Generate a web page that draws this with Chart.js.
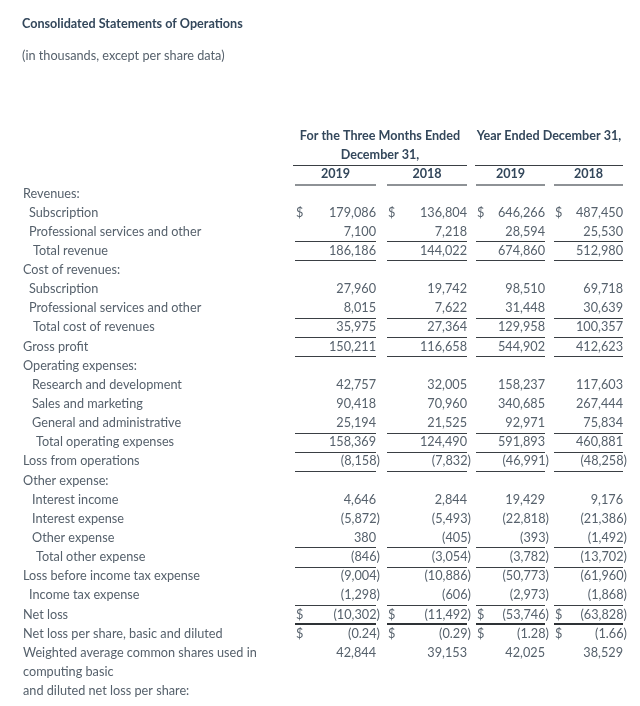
<!DOCTYPE html>
<html>
<head>
<meta charset="utf-8">
<script src="https://cdn.jsdelivr.net/npm/chart.js@4.4.0/dist/chart.umd.min.js"></script>
<style>
  html, body { margin: 0; padding: 0; background: #fff; }
  #wrap { width: 640px; height: 706px; position: relative; }
</style>
</head>
<body>
<div id="wrap"><canvas id="stmt"></canvas></div>
<script>
// rows of the statement (thousands, except per share)
const rowLabels = [
  "Revenues:", "Subscription", "Professional services and other", "Total revenue",
  "Cost of revenues:", "Subscription", "Professional services and other", "Total cost of revenues",
  "Gross profit", "Operating expenses:", "Research and development", "Sales and marketing",
  "General and administrative", "Total operating expenses", "Loss from operations", "Other expense:",
  "Interest income", "Interest expense", "Other expense", "Total other expense",
  "Loss before income tax expense", "Income tax expense", "Net loss",
  "Net loss per share, basic and diluted", "Weighted average common shares used in",
  "computing basic", "and diluted net loss per share:"
];
const columnYears = ["2019", "2018", "2019", "2018"];
const groupHeaders = [["For the Three Months Ended", "December 31,"], ["Year Ended December 31,"]];

const q4_2019 = [null, 179086, 7100, 186186, null, 27960, 8015, 35975, 150211, null, 42757, 90418, 25194, 158369, -8158, null, 4646, -5872, 380, -846, -9004, -1298, -10302, -0.24, 42844, null, null];
const q4_2018 = [null, 136804, 7218, 144022, null, 19742, 7622, 27364, 116658, null, 32005, 70960, 21525, 124490, -7832, null, 2844, -5493, -405, -3054, -10886, -606, -11492, -0.29, 39153, null, null];
const fy_2019 = [null, 646266, 28594, 674860, null, 98510, 31448, 129958, 544902, null, 158237, 340685, 92971, 591893, -46991, null, 19429, -22818, -393, -3782, -50773, -2973, -53746, -1.28, 42025, null, null];
const fy_2018 = [null, 487450, 25530, 512980, null, 69718, 30639, 100357, 412623, null, 117603, 267444, 75834, 460881, -48258, null, 9176, -21386, -1492, -13702, -61960, -1868, -63828, -1.66, 38529, null, null];
const dollarRows = [1, 22, 23];
const perShareRow = 23;

// layout (page pixels on the x scale, row index on the y scale)
const colSpans = [[295, 376], [387, 467], [476, 545], [554, 623]];
const groupSpans = [[293, 467], [475, 623]];
const labelX = 23;
const indents = [0, 6, 6, 10, 0, 6, 6, 10, 0, 0, 9, 9, 9, 13, 0, 0, 9, 9, 9, 13, 0, 6, 0, 0, 0, 0, 0];
const ruleAfter = [2, 3, 6, 7, 8, 12, 13, 14, 18, 19, 21];
const thickRuleAfter = [22];

const bodyFont = "12.7px Lato";
const headFont = "bold 12.6px Lato";
const bodyColor = "#56616c";
const headColor = "#33475b";

const columns = [q4_2019, q4_2018, fy_2019, fy_2018];
const datasets = columns.map((vals, c) => ({
  label: columnYears[c],
  data: vals.map((v, i) => (v === null ? null : { x: colSpans[c][1], y: i, v })).filter((d) => d),
  pointRadius: 0,
  showLine: false,
}));

function fmt(v, row) {
  const a = Math.abs(v);
  return row === perShareRow ? a.toFixed(2) : a.toLocaleString("en-US");
}

const tablePlugin = {
  id: "tableText",
  afterDatasetsDraw(chart) {
    const ctx = chart.ctx;
    const xs = chart.scales.x;
    const ys = chart.scales.y;
    ctx.save();
    ctx.textBaseline = "middle";

    // header
    ctx.font = headFont;
    ctx.fillStyle = headColor;
    ctx.textAlign = "center";
    groupHeaders.forEach((lines, g) => {
      const cx = xs.getPixelForValue((groupSpans[g][0] + groupSpans[g][1]) / 2);
      lines.forEach((t, k) => ctx.fillText(t, cx, ys.getPixelForValue(-3 + k)));
      ctx.strokeStyle = "#3a3f44";
      ctx.lineWidth = 1;
      const yl = Math.round(ys.getPixelForValue(-1.5)) + 0.5;
      ctx.beginPath();
      ctx.moveTo(xs.getPixelForValue(groupSpans[g][0]), yl);
      ctx.lineTo(xs.getPixelForValue(groupSpans[g][1]), yl);
      ctx.stroke();
    });
    columnYears.forEach((t, c) => {
      const cx = xs.getPixelForValue((colSpans[c][0] + colSpans[c][1]) / 2);
      ctx.fillText(t, cx, ys.getPixelForValue(-1));
      ctx.strokeStyle = "#8e9296";
      ctx.lineWidth = 2;
      const yl = Math.round(ys.getPixelForValue(-0.5)) + 1;
      ctx.beginPath();
      ctx.moveTo(xs.getPixelForValue(colSpans[c][0]), yl);
      ctx.lineTo(xs.getPixelForValue(colSpans[c][1]), yl);
      ctx.stroke();
    });

    // row labels
    ctx.font = bodyFont;
    ctx.fillStyle = bodyColor;
    ctx.textAlign = "left";
    rowLabels.forEach((t, i) => {
      ctx.fillText(t, xs.getPixelForValue(labelX + indents[i]), ys.getPixelForValue(i));
    });

    // values
    const closeW = ctx.measureText(")").width + 0.5;
    chart.data.datasets.forEach((ds, c) => {
      const meta = chart.getDatasetMeta(c);
      meta.data.forEach((el, j) => {
        const d = ds.data[j];
        const txt = fmt(d.v, d.y);
        ctx.textAlign = "right";
        if (d.v < 0) ctx.fillText("(" + txt + ")", el.x + closeW, el.y);
        else ctx.fillText(txt, el.x, el.y);
        if (dollarRows.includes(d.y)) {
          ctx.textAlign = "left";
          ctx.fillText("$", xs.getPixelForValue(colSpans[c][0] + 1), el.y);
        }
      });
    });

    // rules
    const drawRule = (r, w, color) => {
      ctx.strokeStyle = color;
      ctx.lineWidth = w;
      const yl = Math.round(ys.getPixelForValue(r + 0.5)) + (w % 2 ? 0.5 : 0);
      colSpans.forEach(([a, b]) => {
        ctx.beginPath();
        ctx.moveTo(xs.getPixelForValue(a), yl);
        ctx.lineTo(xs.getPixelForValue(b), yl);
        ctx.stroke();
      });
    };
    ruleAfter.forEach((r) => drawRule(r, 1, "#3a3f44"));
    thickRuleAfter.forEach((r) => drawRule(r, 2, "#2e3236"));
    ctx.restore();
  },
};

new Chart(document.getElementById("stmt"), {
  type: "scatter",
  data: { datasets },
  plugins: [tablePlugin],
  options: {
    responsive: true,
    maintainAspectRatio: false,
    animation: false,
    events: [],
    layout: { padding: { top: 0, left: 22, right: 0, bottom: 5.44 } },
    scales: {
      x: { type: "linear", min: 22, max: 640, display: false },
      y: { type: "linear", reverse: true, min: -0.5, max: rowLabels.length - 0.5, display: false },
    },
    plugins: {
      legend: { display: false },
      tooltip: { enabled: false },
      title: {
        display: true,
        text: "Consolidated Statements of Operations",
        align: "start",
        color: headColor,
        font: { family: "Lato", size: 12.6, weight: "bold", lineHeight: 1.2 },
        padding: { top: 16.44, bottom: 0 },
      },
      subtitle: {
        display: true,
        text: "(in thousands, except per share data)",
        align: "start",
        color: bodyColor,
        font: { family: "Lato", size: 12.7, weight: "normal", lineHeight: 1.2 },
        padding: { top: 16.64, bottom: 120.4 },
      },
    },
  },
});
</script>
</body>
</html>
